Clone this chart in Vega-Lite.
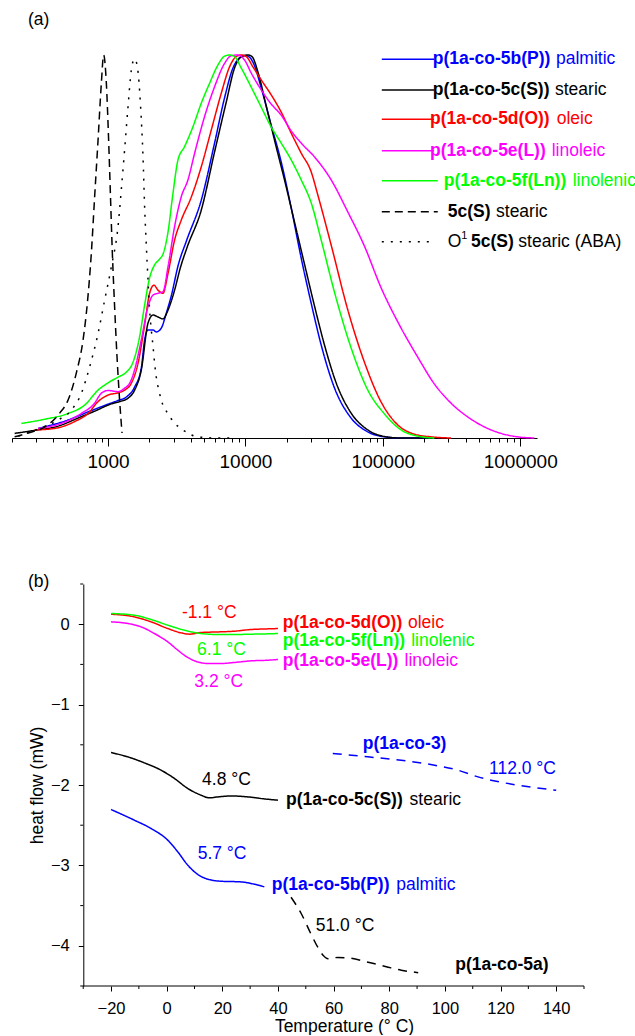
{
  "$schema": "https://vega.github.io/schema/vega-lite/v6.json",
  "background": "white",
  "padding": {"left": 11, "top": 10, "right": 0, "bottom": 0},
  "bounds": "flush",
  "spacing": 146,
  "config": {
    "font": "Liberation Sans",
    "view": {"stroke": null},
    "axis": {"grid": false, "domainColor": "black", "tickColor": "black", "labelColor": "black", "titleColor": "black", "labelFont": "Liberation Sans", "titleFont": "Liberation Sans", "titleFontWeight": "normal", "domainWidth": 1, "tickWidth": 1},
    "title": {"font": "Liberation Sans", "fontWeight": "normal", "fontSize": 17.5, "color": "black"},
    "text": {"font": "Liberation Sans"}
  },
  "datasets": {
    "gpc": [
      {"s":"5b","M":310,"w":0.025},{"s":"5b","M":512,"w":0.047},{"s":"5b","M":715,"w":0.068},{"s":"5b","M":945,"w":0.085},{"s":"5b","M":1182,"w":0.098},{"s":"5b","M":1359,"w":0.107},{"s":"5b","M":1561,"w":0.133},{"s":"5b","M":1747,"w":0.183},{"s":"5b","M":1846,"w":0.256},{"s":"5b","M":1954,"w":0.282},{"s":"5b","M":2125,"w":0.282},{"s":"5b","M":2245,"w":0.277},{"s":"5b","M":2442,"w":0.287},{"s":"5b","M":2655,"w":0.326},{"s":"5b","M":2886,"w":0.371},{"s":"5b","M":3245,"w":0.452},{"s":"5b","M":3742,"w":0.517},{"s":"5b","M":4770,"w":0.621},{"s":"5b","M":5962,"w":0.770},{"s":"5b","M":7047,"w":0.888},{"s":"5b","M":8114,"w":0.966},{"s":"5b","M":9060,"w":0.993},{"s":"5b","M":9802,"w":0.999},{"s":"5b","M":10656,"w":0.995},{"s":"5b","M":11587,"w":0.974},{"s":"5b","M":13030,"w":0.914},{"s":"5b","M":15400,"w":0.817},{"s":"5b","M":18210,"w":0.721},{"s":"5b","M":21540,"w":0.601},{"s":"5b","M":25460,"w":0.470},{"s":"5b","M":30100,"w":0.352},{"s":"5b","M":35590,"w":0.243},{"s":"5b","M":44460,"w":0.131},{"s":"5b","M":58810,"w":0.052},{"s":"5b","M":77800,"w":0.016},{"s":"5b","M":102700,"w":0.003},{"s":"5b","M":135900,"w":0},{"s":"5b","M":224500,"w":0},
      {"s":"5c","M":209,"w":0.012},{"s":"5c","M":292,"w":0.020},{"s":"5c","M":433,"w":0.031},{"s":"5c","M":605,"w":0.052},{"s":"5c","M":799,"w":0.070},{"s":"5c","M":1057,"w":0.089},{"s":"5c","M":1214,"w":0.095},{"s":"5c","M":1398,"w":0.104},{"s":"5c","M":1561,"w":0.125},{"s":"5c","M":1747,"w":0.178},{"s":"5c","M":1954,"w":0.300},{"s":"5c","M":2125,"w":0.321},{"s":"5c","M":2310,"w":0.316},{"s":"5c","M":2512,"w":0.311},{"s":"5c","M":2733,"w":0.334},{"s":"5c","M":3051,"w":0.386},{"s":"5c","M":3357,"w":0.444},{"s":"5c","M":3773,"w":0.499},{"s":"5c","M":4770,"w":0.595},{"s":"5c","M":5962,"w":0.747},{"s":"5c","M":7251,"w":0.877},{"s":"5c","M":8331,"w":0.966},{"s":"5c","M":9322,"w":0.995},{"s":"5c","M":10428,"w":1.0},{"s":"5c","M":11207,"w":0.995},{"s":"5c","M":12390,"w":0.953},{"s":"5c","M":14170,"w":0.867},{"s":"5c","M":16750,"w":0.760},{"s":"5c","M":19250,"w":0.674},{"s":"5c","M":22760,"w":0.564},{"s":"5c","M":26910,"w":0.454},{"s":"5c","M":31810,"w":0.345},{"s":"5c","M":37610,"w":0.243},{"s":"5c","M":45750,"w":0.144},{"s":"5c","M":58810,"w":0.065},{"s":"5c","M":77800,"w":0.021},{"s":"5c","M":102700,"w":0.004},{"s":"5c","M":135900,"w":0},{"s":"5c","M":224500,"w":0},
      {"s":"5d","M":292,"w":0.021},{"s":"5d","M":409,"w":0.025},{"s":"5d","M":572,"w":0.043},{"s":"5d","M":715,"w":0.064},{"s":"5d","M":846,"w":0.095},{"s":"5d","M":1000,"w":0.112},{"s":"5d","M":1182,"w":0.118},{"s":"5d","M":1320,"w":0.125},{"s":"5d","M":1477,"w":0.143},{"s":"5d","M":1653,"w":0.195},{"s":"5d","M":1846,"w":0.295},{"s":"5d","M":2007,"w":0.378},{"s":"5d","M":2160,"w":0.399},{"s":"5d","M":2310,"w":0.386},{"s":"5d","M":2512,"w":0.378},{"s":"5d","M":2733,"w":0.430},{"s":"5d","M":3051,"w":0.517},{"s":"5d","M":3413,"w":0.569},{"s":"5d","M":4035,"w":0.629},{"s":"5d","M":4770,"w":0.708},{"s":"5d","M":5641,"w":0.804},{"s":"5d","M":6668,"w":0.900},{"s":"5d","M":7663,"w":0.969},{"s":"5d","M":8572,"w":0.996},{"s":"5d","M":9322,"w":1.0},{"s":"5d","M":10134,"w":0.996},{"s":"5d","M":11337,"w":0.969},{"s":"5d","M":13030,"w":0.935},{"s":"5d","M":15400,"w":0.896},{"s":"5d","M":18210,"w":0.851},{"s":"5d","M":21540,"w":0.796},{"s":"5d","M":25460,"w":0.744},{"s":"5d","M":30100,"w":0.695},{"s":"5d","M":33680,"w":0.634},{"s":"5d","M":42070,"w":0.504},{"s":"5d","M":55660,"w":0.334},{"s":"5d","M":73480,"w":0.198},{"s":"5d","M":97190,"w":0.094},{"s":"5d","M":128600,"w":0.034},{"s":"5d","M":169700,"w":0.010},{"s":"5d","M":224500,"w":0.003},{"s":"5d","M":313800,"w":0},
      {"s":"5e","M":310,"w":0.025},{"s":"5e","M":457,"w":0.038},{"s":"5e","M":639,"w":0.064},{"s":"5e","M":799,"w":0.091},{"s":"5e","M":894,"w":0.117},{"s":"5e","M":1000,"w":0.124},{"s":"5e","M":1182,"w":0.121},{"s":"5e","M":1320,"w":0.130},{"s":"5e","M":1436,"w":0.143},{"s":"5e","M":1561,"w":0.178},{"s":"5e","M":1747,"w":0.256},{"s":"5e","M":1954,"w":0.343},{"s":"5e","M":2125,"w":0.373},{"s":"5e","M":2310,"w":0.378},{"s":"5e","M":2512,"w":0.382},{"s":"5e","M":2733,"w":0.447},{"s":"5e","M":3051,"w":0.552},{"s":"5e","M":3413,"w":0.630},{"s":"5e","M":3817,"w":0.674},{"s":"5e","M":4265,"w":0.743},{"s":"5e","M":5041,"w":0.839},{"s":"5e","M":5962,"w":0.917},{"s":"5e","M":7047,"w":0.978},{"s":"5e","M":7885,"w":0.998},{"s":"5e","M":8820,"w":1.0},{"s":"5e","M":9851,"w":0.987},{"s":"5e","M":11020,"w":0.953},{"s":"5e","M":13030,"w":0.909},{"s":"5e","M":15400,"w":0.872},{"s":"5e","M":18210,"w":0.843},{"s":"5e","M":21540,"w":0.802},{"s":"5e","M":25460,"w":0.770},{"s":"5e","M":31810,"w":0.734},{"s":"5e","M":42070,"w":0.674},{"s":"5e","M":55660,"w":0.590},{"s":"5e","M":73480,"w":0.501},{"s":"5e","M":97190,"w":0.392},{"s":"5e","M":128600,"w":0.303},{"s":"5e","M":179700,"w":0.211},{"s":"5e","M":237300,"w":0.141},{"s":"5e","M":313800,"w":0.091},{"s":"5e","M":415200,"w":0.055},{"s":"5e","M":548300,"w":0.029},{"s":"5e","M":725100,"w":0.012},{"s":"5e","M":959000,"w":0.003},{"s":"5e","M":1266000,"w":0},
      {"s":"5f","M":234,"w":0.038},{"s":"5f","M":346,"w":0.049},{"s":"5f","M":512,"w":0.064},{"s":"5f","M":676,"w":0.086},{"s":"5f","M":846,"w":0.125},{"s":"5f","M":1000,"w":0.144},{"s":"5f","M":1182,"w":0.159},{"s":"5f","M":1359,"w":0.172},{"s":"5f","M":1520,"w":0.198},{"s":"5f","M":1697,"w":0.264},{"s":"5f","M":1846,"w":0.347},{"s":"5f","M":2007,"w":0.418},{"s":"5f","M":2183,"w":0.452},{"s":"5f","M":2373,"w":0.467},{"s":"5f","M":2512,"w":0.480},{"s":"5f","M":2733,"w":0.538},{"s":"5f","M":2970,"w":0.639},{"s":"5f","M":3228,"w":0.726},{"s":"5f","M":3608,"w":0.761},{"s":"5f","M":4152,"w":0.813},{"s":"5f","M":4770,"w":0.874},{"s":"5f","M":5483,"w":0.926},{"s":"5f","M":6310,"w":0.974},{"s":"5f","M":7047,"w":0.997},{"s":"5f","M":7663,"w":1.0},{"s":"5f","M":8331,"w":0.996},{"s":"5f","M":9322,"w":0.966},{"s":"5f","M":11020,"w":0.916},{"s":"5f","M":13030,"w":0.864},{"s":"5f","M":15400,"w":0.812},{"s":"5f","M":18210,"w":0.770},{"s":"5f","M":21540,"w":0.726},{"s":"5f","M":25460,"w":0.674},{"s":"5f","M":30100,"w":0.614},{"s":"5f","M":35590,"w":0.517},{"s":"5f","M":44460,"w":0.381},{"s":"5f","M":58810,"w":0.235},{"s":"5f","M":77800,"w":0.125},{"s":"5f","M":102700,"w":0.063},{"s":"5f","M":135900,"w":0.021},{"s":"5f","M":179700,"w":0.005},{"s":"5f","M":237300,"w":0},
      {"s":"mono","M":209,"w":0.003},{"s":"mono","M":262,"w":0.013},{"s":"mono","M":346,"w":0.029},{"s":"mono","M":445,"w":0.065},{"s":"mono","M":512,"w":0.099},{"s":"mono","M":588,"w":0.170},{"s":"mono","M":658,"w":0.256},{"s":"mono","M":707,"w":0.352},{"s":"mono","M":756,"w":0.483},{"s":"mono","M":799,"w":0.630},{"s":"mono","M":846,"w":0.778},{"s":"mono","M":894,"w":0.926},{"s":"mono","M":929,"w":1.0},{"s":"mono","M":972,"w":0.927},{"s":"mono","M":1010,"w":0.778},{"s":"mono","M":1044,"w":0.621},{"s":"mono","M":1075,"w":0.483},{"s":"mono","M":1117,"w":0.342},{"s":"mono","M":1163,"w":0.211},{"s":"mono","M":1214,"w":0.099},{"s":"mono","M":1264,"w":0.013},
      {"s":"aba","M":222,"w":0.005},{"s":"aba","M":262,"w":0.014},{"s":"aba","M":346,"w":0.030},{"s":"aba","M":433,"w":0.047},{"s":"aba","M":541,"w":0.073},{"s":"aba","M":640,"w":0.117},{"s":"aba","M":735,"w":0.186},{"s":"aba","M":846,"w":0.273},{"s":"aba","M":945,"w":0.360},{"s":"aba","M":1057,"w":0.447},{"s":"aba","M":1182,"w":0.552},{"s":"aba","M":1249,"w":0.648},{"s":"aba","M":1320,"w":0.752},{"s":"aba","M":1398,"w":0.865},{"s":"aba","M":1477,"w":0.960},{"s":"aba","M":1561,"w":0.99},{"s":"aba","M":1634,"w":0.970},{"s":"aba","M":1726,"w":0.865},{"s":"aba","M":1797,"w":0.734},{"s":"aba","M":1846,"w":0.604},{"s":"aba","M":1899,"w":0.504},{"s":"aba","M":1954,"w":0.413},{"s":"aba","M":2007,"w":0.334},{"s":"aba","M":2065,"w":0.282},{"s":"aba","M":2125,"w":0.240},{"s":"aba","M":2183,"w":0.195},{"s":"aba","M":2245,"w":0.159},{"s":"aba","M":2342,"w":0.125},{"s":"aba","M":2442,"w":0.099},{"s":"aba","M":2733,"w":0.063},{"s":"aba","M":3051,"w":0.039},{"s":"aba","M":3513,"w":0.021},{"s":"aba","M":4035,"w":0.008},{"s":"aba","M":4770,"w":0.002},{"s":"aba","M":6134,"w":0},{"s":"aba","M":7885,"w":0}
    ],
    "gleg": [
      {"s":"5b","M":98330,"M2":236100,"w":0.9888},
      {"s":"5c","M":98330,"M2":236100,"w":0.9086},
      {"s":"5d","M":98330,"M2":236100,"w":0.8321},
      {"s":"5e","M":98330,"M2":236100,"w":0.7501},
      {"s":"5f","M":98330,"M2":251200,"w":0.6718},
      {"s":"mono","M":98330,"M2":251200,"w":0.5909},
      {"s":"aba","M":98330,"M2":224500,"w":0.5125}
    ],
    "gbold": [
      {"s":"5b","M":231000,"w":0.9888,"t":"p(1a-co-5b(P))"},
      {"s":"5c","M":231000,"w":0.9086,"t":"p(1a-co-5c(S))"},
      {"s":"5d","M":220800,"w":0.8321,"t":"p(1a-co-5d(O))"},
      {"s":"5e","M":220800,"w":0.7501,"t":"p(1a-co-5e(L))"},
      {"s":"5f","M":277800,"w":0.6718,"t":"p(1a-co-5f(Ln))"},
      {"s":"mono","M":297000,"w":0.5909,"t":"5c(S)"},
      {"s":"aba","M":438800,"w":0.5125,"t":"5c(S)"}
    ],
    "gnorm": [
      {"s":"5b","M":1821000,"w":0.9888,"t":"palmitic"},
      {"s":"5c","M":1791000,"w":0.9086,"t":"stearic"},
      {"s":"5d","M":1843000,"w":0.8321,"t":"oleic"},
      {"s":"5e","M":1695000,"w":0.7501,"t":"linoleic"},
      {"s":"5f","M":2409000,"w":0.6718,"t":"linolenic"},
      {"s":"mono","M":666800,"w":0.5909,"t":"stearic"},
      {"s":"aba","M":297000,"w":0.5125,"t":"O"},
      {"s":"aba","M":968700,"w":0.5125,"t":"stearic (ABA)"}
    ],
    "gsup": [
      {"s":"aba","M":372900,"w":0.527,"t":"1"}
    ],
    "dsc": [
      {"s":"5d","T":-20,"hf":0.124},{"s":"5d","T":-11.6,"hf":0.091},{"s":"5d","T":-5.6,"hf":0.029},{"s":"5d","T":0.4,"hf":-0.054},{"s":"5d","T":5.2,"hf":-0.108},{"s":"5d","T":8.2,"hf":-0.124},{"s":"5d","T":12.4,"hf":-0.103},{"s":"5d","T":18.4,"hf":-0.096},{"s":"5d","T":24.3,"hf":-0.087},{"s":"5d","T":30.3,"hf":-0.066},{"s":"5d","T":36.3,"hf":-0.058},{"s":"5d","T":40,"hf":-0.054},
      {"s":"5f","T":-20,"hf":0.133},{"s":"5f","T":-11.6,"hf":0.112},{"s":"5f","T":-5.6,"hf":0.058},{"s":"5f","T":0.4,"hf":-0.012},{"s":"5f","T":6.4,"hf":-0.075},{"s":"5f","T":12.4,"hf":-0.116},{"s":"5f","T":18.4,"hf":-0.128},{"s":"5f","T":24.3,"hf":-0.128},{"s":"5f","T":30.3,"hf":-0.124},{"s":"5f","T":36.3,"hf":-0.12},{"s":"5f","T":40,"hf":-0.116},
      {"s":"5e","T":-20,"hf":0.029},{"s":"5e","T":-14,"hf":0.009},{"s":"5e","T":-9.2,"hf":-0.033},{"s":"5e","T":-4.4,"hf":-0.116},{"s":"5e","T":0.4,"hf":-0.22},{"s":"5e","T":4.0,"hf":-0.323},{"s":"5e","T":7.6,"hf":-0.415},{"s":"5e","T":11.2,"hf":-0.469},{"s":"5e","T":14.8,"hf":-0.489},{"s":"5e","T":19.6,"hf":-0.489},{"s":"5e","T":24.3,"hf":-0.476},{"s":"5e","T":30.3,"hf":-0.456},{"s":"5e","T":36.3,"hf":-0.448},{"s":"5e","T":40,"hf":-0.439},
      {"s":"5c","T":-20,"hf":-1.596},{"s":"5c","T":-14,"hf":-1.650},{"s":"5c","T":-8.0,"hf":-1.725},{"s":"5c","T":-2.0,"hf":-1.816},{"s":"5c","T":2.8,"hf":-1.919},{"s":"5c","T":7.6,"hf":-2.044},{"s":"5c","T":12.4,"hf":-2.127},{"s":"5c","T":15.3,"hf":-2.160},{"s":"5c","T":18.4,"hf":-2.148},{"s":"5c","T":23.1,"hf":-2.136},{"s":"5c","T":29.2,"hf":-2.148},{"s":"5c","T":35.1,"hf":-2.173},{"s":"5c","T":40,"hf":-2.189},
      {"s":"5b","T":-20,"hf":-2.305},{"s":"5b","T":-11.6,"hf":-2.438},{"s":"5b","T":-5.6,"hf":-2.541},{"s":"5b","T":0.4,"hf":-2.687},{"s":"5b","T":4.0,"hf":-2.832},{"s":"5b","T":7.6,"hf":-2.998},{"s":"5b","T":11.2,"hf":-3.113},{"s":"5b","T":14.8,"hf":-3.172},{"s":"5b","T":19.6,"hf":-3.197},{"s":"5b","T":26.7,"hf":-3.205},{"s":"5b","T":31.5,"hf":-3.234},{"s":"5b","T":35.1,"hf":-3.267},
      {"s":"5a","T":44.7,"hf":-3.396},{"s":"5a","T":48.3,"hf":-3.595},{"s":"5a","T":51.9,"hf":-3.856},{"s":"5a","T":54.3,"hf":-4.017},{"s":"5a","T":56.2,"hf":-4.117},{"s":"5a","T":58.0,"hf":-4.160},{"s":"5a","T":61.5,"hf":-4.145},{"s":"5a","T":65.2,"hf":-4.150},{"s":"5a","T":72.4,"hf":-4.204},{"s":"5a","T":79.6,"hf":-4.266},{"s":"5a","T":84.3,"hf":-4.303},{"s":"5a","T":90.4,"hf":-4.334},
      {"s":"3","T":59.7,"hf":-1.608},{"s":"3","T":72.3,"hf":-1.650},{"s":"3","T":84.3,"hf":-1.692},{"s":"3","T":96.3,"hf":-1.754},{"s":"3","T":104.7,"hf":-1.816},{"s":"3","T":111.9,"hf":-1.899},{"s":"3","T":116.6,"hf":-1.940},{"s":"3","T":126.2,"hf":-2.002},{"s":"3","T":140,"hf":-2.065}
    ],
    "dann": [
      {"s":"5d","T":15.3,"hf":0.14,"t":"-1.1 °C"},
      {"s":"5f","T":19.7,"hf":-0.323,"t":"6.1 °C"},
      {"s":"5e","T":18.7,"hf":-0.717,"t":"3.2 °C"},
      {"s":"5c","T":21.5,"hf":-1.94,"t":"4.8 °C"},
      {"s":"5b","T":19.9,"hf":-2.861,"t":"5.7 °C"},
      {"s":"5a","T":64.1,"hf":-3.756,"t":"51.0 °C"},
      {"s":"3","T":127.9,"hf":-1.807,"t":"112.0 °C"}
    ],
    "dbold": [
      {"s":"5d","T":41.7,"hf":0.009,"t":"p(1a-co-5d(O))"},
      {"s":"5f","T":41.7,"hf":-0.208,"t":"p(1a-co-5f(Ln))"},
      {"s":"5e","T":41.7,"hf":-0.456,"t":"p(1a-co-5e(L))"},
      {"s":"5c","T":42.9,"hf":-2.189,"t":"p(1a-co-5c(S))"},
      {"s":"5b","T":37.8,"hf":-3.246,"t":"p(1a-co-5b(P))"},
      {"s":"3","T":70.5,"hf":-1.484,"t":"p(1a-co-3)"},
      {"s":"5a","T":103.7,"hf":-4.241,"t":"p(1a-co-5a)"}
    ],
    "dnorm": [
      {"s":"5d","T":86.7,"hf":0.009,"t":"oleic"},
      {"s":"5f","T":87.9,"hf":-0.208,"t":"linolenic"},
      {"s":"5e","T":85.5,"hf":-0.456,"t":"linoleic"},
      {"s":"5c","T":87.3,"hf":-2.189,"t":"stearic"},
      {"s":"5b","T":82.5,"hf":-3.246,"t":"palmitic"}
    ],
    "daxis": [
      {"T":-30,"T2":150,"hf":-4.5}
    ],
    "xminor": [
      {"T":-30,"hf":-4.5},{"T":-10,"hf":-4.5},{"T":10,"hf":-4.5},{"T":30,"hf":-4.5},{"T":50,"hf":-4.5},{"T":70,"hf":-4.5},{"T":90,"hf":-4.5},{"T":110,"hf":-4.5},{"T":130,"hf":-4.5},{"T":150,"hf":-4.5}
    ],
    "yminor": [
      {"T":-30,"hf":-4.5},{"T":-30,"hf":-3.5},{"T":-30,"hf":-2.5},{"T":-30,"hf":-1.5},{"T":-30,"hf":-0.5},{"T":-30,"hf":0.5}
    ]
  },
  "vconcat": [
    {
      "title": {"text": "(a)", "anchor": "start", "frame": "group", "dx": 16, "offset": 4, "baseline": "bottom"},
      "width": 525,
      "height": 383,
      "layer": [
        {
          "data": {"name": "gpc"},
          "mark": {"type": "line", "strokeWidth": 1.5, "interpolate": "monotone"},
          "encoding": {
            "x": {"field": "M", "type": "quantitative", "scale": {"type": "log", "domain": [200, 1325000], "nice": false},
              "axis": {"title": null, "values": [200,300,400,500,600,700,800,900,1000,2000,3000,4000,5000,6000,7000,8000,9000,10000,20000,30000,40000,50000,60000,70000,80000,90000,100000,200000,300000,400000,500000,600000,700000,800000,900000,1000000],
                "format": "d",
                "labelExpr": "(datum.value == 1000 || datum.value == 10000 || datum.value == 100000 || datum.value == 1000000) ? datum.label : ''",
                "tickSize": {"condition": {"test": "datum.value == 1000 || datum.value == 10000 || datum.value == 100000 || datum.value == 1000000", "value": 8}, "value": 4},
                "labelFontSize": 19, "labelPadding": 6, "labelOverlap": false, "labelFlush": false}},
            "y": {"field": "w", "type": "quantitative", "scale": {"domain": [0, 1], "nice": false}, "axis": null},
            "color": {"field": "s", "type": "nominal", "scale": {"domain": ["5b","5c","5d","5e","5f","mono","aba","5a","3"], "range": ["#0000ff","#000000","#ff0000","#ff00ff","#00ff00","#000000","#000000","#000000","#0000ff"]}, "legend": null},
            "strokeDash": {"field": "s", "type": "nominal", "scale": {"domain": ["5b","5c","5d","5e","5f","mono","aba","5a","3"], "range": [[1,0],[1,0],[1,0],[1,0],[1,0],[8,5],[2,7],[9,7],[9,7]]}, "legend": null}
          }
        },
        {
          "data": {"name": "gbold"},
          "mark": {"type": "text", "fontWeight": "bold", "fontSize": 17.5, "align": "left", "baseline": "middle"},
          "encoding": {
            "x": {"field": "M", "type": "quantitative"},
            "y": {"field": "w", "type": "quantitative"},
            "text": {"field": "t"},
            "color": {"field": "s", "type": "nominal", "legend": null}
          }
        },
        {
          "data": {"name": "gnorm"},
          "mark": {"type": "text", "fontSize": 17.5, "align": "left", "baseline": "middle"},
          "encoding": {
            "x": {"field": "M", "type": "quantitative"},
            "y": {"field": "w", "type": "quantitative"},
            "text": {"field": "t"},
            "color": {"field": "s", "type": "nominal", "legend": null}
          }
        },
        {
          "data": {"name": "gsup"},
          "mark": {"type": "text", "fontSize": 11, "align": "left", "baseline": "middle"},
          "encoding": {
            "x": {"field": "M", "type": "quantitative"},
            "y": {"field": "w", "type": "quantitative"},
            "text": {"field": "t"},
            "color": {"field": "s", "type": "nominal", "legend": null}
          }
        },
        {
          "data": {"name": "gleg"},
          "mark": {"type": "rule", "strokeWidth": 1.5},
          "encoding": {
            "x": {"field": "M", "type": "quantitative"},
            "x2": {"field": "M2"},
            "y": {"field": "w", "type": "quantitative"},
            "color": {"field": "s", "type": "nominal", "legend": null},
            "strokeDash": {"field": "s", "type": "nominal", "legend": null}
          }
        }
      ]
    },
    {
      "title": {"text": "(b)", "anchor": "start", "frame": "group", "dx": 16, "offset": -25, "baseline": "bottom"},
      "width": 572,
      "height": 402,
      "layer": [
        {
          "data": {"name": "dsc"},
          "mark": {"type": "line", "strokeWidth": 1.5, "interpolate": "monotone"},
          "encoding": {
            "x": {"field": "T", "type": "quantitative", "scale": {"domain": [-55.6, 150], "nice": false, "zero": false},
              "axis": {"title": "Temperature (° C)", "titleFontSize": 17.5, "titleX": 332, "titleY": 31, "titleBaseline": "top",
                "values": [-20,0,20,40,60,80,100,120,140],
                "format": "d", "tickSize": 5,
                "domain": false, "labelFontSize": 16.5, "labelPadding": 9, "labelOverlap": false, "labelFlush": false}},
            "y": {"field": "hf", "type": "quantitative", "scale": {"domain": [-4.5, 0.5], "nice": false, "zero": false},
              "axis": {"title": "heat flow (mW)", "titleFontSize": 17.5, "titlePadding": 4, "offset": -71.3,
                "values": [-4,-3,-2,-1,0],
                "format": "d", "tickSize": 5,
                "labelFontSize": 16.5, "labelPadding": 9, "labelOverlap": false, "labelFlush": false}},
            "color": {"field": "s", "type": "nominal", "scale": {"domain": ["5b","5c","5d","5e","5f","mono","aba","5a","3"], "range": ["#0000ff","#000000","#ff0000","#ff00ff","#00ff00","#000000","#000000","#000000","#0000ff"]}, "legend": null},
            "strokeDash": {"field": "s", "type": "nominal", "scale": {"domain": ["5b","5c","5d","5e","5f","mono","aba","5a","3"], "range": [[1,0],[1,0],[1,0],[1,0],[1,0],[8,5],[2,7],[9,7],[9,7]]}, "legend": null}
          }
        },
        {
          "data": {"name": "daxis"},
          "mark": {"type": "rule", "color": "black", "strokeWidth": 1},
          "encoding": {
            "x": {"field": "T", "type": "quantitative"},
            "x2": {"field": "T2"},
            "y": {"field": "hf", "type": "quantitative"}
          }
        },
        {
          "data": {"name": "xminor"},
          "mark": {"type": "tick", "orient": "vertical", "size": 3, "thickness": 1, "color": "black", "opacity": 1, "yOffset": 1.5},
          "encoding": {
            "x": {"field": "T", "type": "quantitative"},
            "y": {"field": "hf", "type": "quantitative"}
          }
        },
        {
          "data": {"name": "yminor"},
          "mark": {"type": "tick", "orient": "horizontal", "size": 3, "thickness": 1, "color": "black", "opacity": 1, "xOffset": -1.5},
          "encoding": {
            "x": {"field": "T", "type": "quantitative"},
            "y": {"field": "hf", "type": "quantitative"}
          }
        },
        {
          "data": {"name": "dann"},
          "mark": {"type": "text", "fontSize": 17.5, "align": "center", "baseline": "middle"},
          "encoding": {
            "x": {"field": "T", "type": "quantitative"},
            "y": {"field": "hf", "type": "quantitative"},
            "text": {"field": "t"},
            "color": {"field": "s", "type": "nominal", "legend": null}
          }
        },
        {
          "data": {"name": "dbold"},
          "mark": {"type": "text", "fontSize": 17.5, "fontWeight": "bold", "align": "left", "baseline": "middle"},
          "encoding": {
            "x": {"field": "T", "type": "quantitative"},
            "y": {"field": "hf", "type": "quantitative"},
            "text": {"field": "t"},
            "color": {"field": "s", "type": "nominal", "legend": null}
          }
        },
        {
          "data": {"name": "dnorm"},
          "mark": {"type": "text", "fontSize": 17.5, "align": "left", "baseline": "middle"},
          "encoding": {
            "x": {"field": "T", "type": "quantitative"},
            "y": {"field": "hf", "type": "quantitative"},
            "text": {"field": "t"},
            "color": {"field": "s", "type": "nominal", "legend": null}
          }
        }
      ]
    }
  ]
}
